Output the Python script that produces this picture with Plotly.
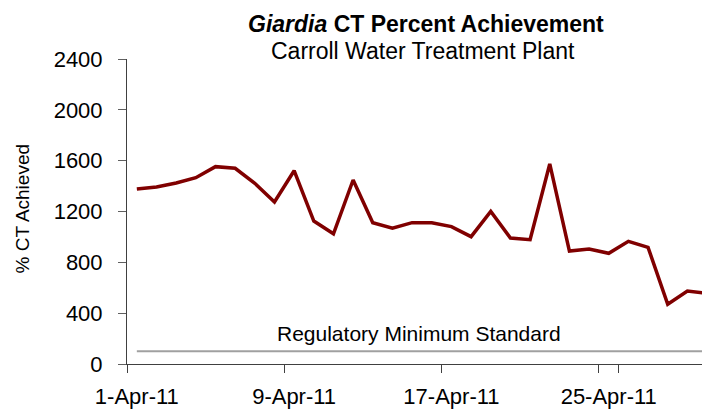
import plotly.graph_objects as go

dates = ["1-Apr-11", "2-Apr-11", "3-Apr-11", "4-Apr-11", "5-Apr-11", "6-Apr-11",
         "7-Apr-11", "8-Apr-11", "9-Apr-11", "10-Apr-11", "11-Apr-11", "12-Apr-11",
         "13-Apr-11", "14-Apr-11", "15-Apr-11", "16-Apr-11", "17-Apr-11", "18-Apr-11",
         "19-Apr-11", "20-Apr-11", "21-Apr-11", "22-Apr-11", "23-Apr-11", "24-Apr-11",
         "25-Apr-11", "26-Apr-11", "27-Apr-11", "28-Apr-11", "29-Apr-11", "30-Apr-11"]
ct_achieved = [1377, 1393, 1424, 1466, 1553, 1540, 1422, 1275, 1521, 1125,
               1025, 1448, 1112, 1068, 1112, 1112, 1081, 1002, 1201, 991,
               978, 1574, 889, 905, 871, 965, 918, 470, 574, 556]
regulatory_min = 100
tick_labels = ["1-Apr-11", "9-Apr-11", "17-Apr-11", "25-Apr-11"]
y_ticks = [0, 400, 800, 1200, 1600, 2000, 2400]

FONT = "Liberation Sans, Arial, sans-serif"

fig = go.Figure()
fig.add_trace(go.Scatter(
    x=dates, y=[regulatory_min] * len(dates), mode="lines",
    line=dict(color="#a0a0a0", width=2), hoverinfo="skip", showlegend=False))
fig.add_trace(go.Scatter(
    x=dates, y=ct_achieved, mode="lines",
    line=dict(color="#800000", width=3.5), showlegend=False))

fig.update_layout(
    width=702, height=401,
    margin=dict(l=119, r=0, t=51, b=45),
    paper_bgcolor="white", plot_bgcolor="white",
    font=dict(family=FONT, color="#000000"),
    xaxis=dict(type="category", range=[-0.5, 29.15], automargin=False,
               tickvals=tick_labels, ticktext=tick_labels, tickangle=0,
               tickson="boundaries", ticks="outside", ticklen=8,
               tickcolor="#404040", showline=True, linecolor="#404040",
               linewidth=1, showgrid=False, zeroline=False,
               tickfont=dict(size=22, color="#000000"), ticklabelstandoff=13),
    yaxis=dict(range=[0, 2400], tickvals=y_ticks, ticks="outside", ticklen=8,
               automargin=False,
               tickcolor="#606060", showline=True, linecolor="#404040",
               linewidth=1, showgrid=False, zeroline=False,
               tickfont=dict(size=22, color="#000000"), ticklabelstandoff=11),
)

fig.add_annotation(text="% CT Achieved", textangle=-90,
                   xref="paper", yref="paper", x=-0.18, y=0.51,
                   xanchor="center", yanchor="middle", showarrow=False,
                   font=dict(size=19, family=FONT))
fig.add_annotation(text="<b><i>Giardia</i> CT Percent Achievement</b>",
                   xref="paper", yref="paper", x=0.513, y=1.115,
                   xanchor="center", yanchor="middle", showarrow=False,
                   font=dict(size=23, family=FONT))
fig.add_annotation(text="Carroll Water Treatment Plant",
                   xref="paper", yref="paper", x=0.508, y=1.026,
                   xanchor="center", yanchor="middle", showarrow=False,
                   font=dict(size=23, family=FONT))
fig.add_annotation(text="Regulatory Minimum Standard",
                   xref="paper", yref="y", x=0.5, y=regulatory_min,
                   xanchor="center", yanchor="bottom", yshift=4, showarrow=False,
                   font=dict(size=21, family=FONT))

fig.write_html("out.html")
